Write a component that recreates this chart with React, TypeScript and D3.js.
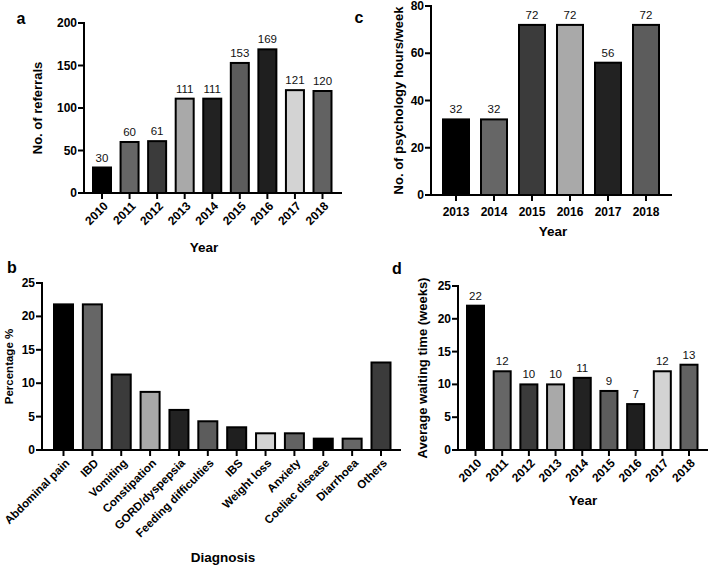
import React from "react";
import * as d3 from "d3";

const palette = ["#000000", "#666666", "#3b3b3b", "#a9a9a9", "#222222", "#5c5c5c", "#1f1f1f", "#d3d3d3", "#626262"];

const yearsA = ["2010", "2011", "2012", "2013", "2014", "2015", "2016", "2017", "2018"];
const referrals = [30, 60, 61, 111, 111, 153, 169, 121, 120];

const diagnoses = ["Abdominal pain", "IBD", "Vomiting", "Constipation", "GORD/dyspepsia", "Feeding difficulties", "IBS", "Weight loss", "Anxiety", "Coeliac disease", "Diarrhoea", "Others"];
const percentages = [21.8, 21.8, 11.3, 8.7, 6.0, 4.3, 3.4, 2.5, 2.5, 1.7, 1.7, 13.1];

const yearsC = ["2013", "2014", "2015", "2016", "2017", "2018"];
const psychHours = [32, 32, 72, 72, 56, 72];

const yearsD = ["2010", "2011", "2012", "2013", "2014", "2015", "2016", "2017", "2018"];
const waiting = [22, 12, 10, 10, 11, 9, 7, 12, 13];

const ticksA = [0, 50, 100, 150, 200];
const ticksB = [0, 5, 10, 15, 20, 25];
const ticksC = [0, 20, 40, 60, 80];
const ticksD = [0, 5, 10, 15, 20, 25];

const FONT = "'Liberation Sans', Arial, Helvetica, sans-serif";

type PanelProps = {
  cats: string[];
  vals: number[];
  ticks: number[];
  yMax: number;
  axisX: number;
  y0: number;
  yTop: number;
  cx0: number;
  cx1: number;
  barW: number;
  xEnd: number;
  rotate: boolean;
  showValues: boolean;
  yTitle: string;
  yTitleX: number;
  yTitleSize: number;
  xTitle: string;
  xTitleX: number;
  xTitleY: number;
  letter: string;
  letterX: number;
  letterY: number;
  catSize: number;
};

function Panel(p: PanelProps) {
  const y = d3.scaleLinear().domain([0, p.yMax]).range([p.y0, p.yTop]);
  const x = d3.scalePoint<string>().domain(p.cats).range([p.cx0, p.cx1]);
  const tickLen = 6;
  return (
    <g fontFamily={FONT}>
      {p.cats.map((c, i) => {
        const cx = x(c) as number;
        const top = y(p.vals[i]);
        return (
          <g key={c}>
            <rect x={cx - p.barW / 2} y={top} width={p.barW} height={p.y0 - top} fill={palette[i % palette.length]} stroke="#000" strokeWidth={2} />
            {p.showValues && (
              <text x={cx} y={top - 6} textAnchor="middle" fontSize={11.5} fill="#111">
                {p.vals[i]}
              </text>
            )}
            <line x1={cx} x2={cx} y1={p.y0} y2={p.y0 + tickLen} stroke="#000" strokeWidth={2} />
            {p.rotate ? (
              <text
                transform={`translate(${cx + 4},${p.y0 + 11}) rotate(-45)`}
                textAnchor="end"
                dominantBaseline="central"
                fontSize={p.catSize}
                fontWeight="bold"
              >
                {c}
              </text>
            ) : (
              <text x={cx} y={p.y0 + 21} textAnchor="middle" fontSize={p.catSize} fontWeight="bold">
                {c}
              </text>
            )}
          </g>
        );
      })}
      <line x1={p.axisX} x2={p.xEnd} y1={p.y0} y2={p.y0} stroke="#000" strokeWidth={2} />
      <line x1={p.axisX} x2={p.axisX} y1={p.y0 + 1} y2={p.yTop - 1} stroke="#000" strokeWidth={2} />
      {p.ticks.map((t) => (
        <g key={t}>
          <line x1={p.axisX - tickLen} x2={p.axisX} y1={y(t)} y2={y(t)} stroke="#000" strokeWidth={2} />
          <text x={p.axisX - tickLen - 1} y={y(t)} textAnchor="end" dominantBaseline="central" fontSize={12} fontWeight="bold">
            {t}
          </text>
        </g>
      ))}
      <text
        transform={`translate(${p.yTitleX},${(p.y0 + p.yTop) / 2}) rotate(-90)`}
        textAnchor="middle"
        dominantBaseline="central"
        fontSize={p.yTitleSize}
        fontWeight="bold"
      >
        {p.yTitle}
      </text>
      <text x={p.xTitleX} y={p.xTitleY} textAnchor="middle" fontSize={13.5} fontWeight="bold">
        {p.xTitle}
      </text>
      <text x={p.letterX} y={p.letterY} textAnchor="middle" fontSize={16} fontWeight="bold">
        {p.letter}
      </text>
    </g>
  );
}

export default function App() {
  return (
    <svg width={708} height={567} style={{ position: "absolute", left: 0, top: 0, background: "#fff" }}>
      <rect width={708} height={567} fill="#fff" />
      <Panel
        cats={yearsA} vals={referrals} ticks={ticksA} yMax={200}
        axisX={84} y0={193} yTop={23} cx0={102} cx1={322.5} barW={18} xEnd={342}
        rotate={true} showValues={true}
        yTitle="No. of referrals" yTitleX={37} yTitleSize={13}
        xTitle="Year" xTitleX={204} xTitleY={252}
        letter="a" letterX={21} letterY={24} catSize={12}
      />
      <Panel
        cats={yearsC} vals={psychHours} ticks={ticksC} yMax={80}
        axisX={431} y0={195} yTop={6} cx0={456} cx1={646} barW={26} xEnd={672}
        rotate={false} showValues={true}
        yTitle="No. of psychology hours/week" yTitleX={398} yTitleSize={13}
        xTitle="Year" xTitleX={553} xTitleY={236}
        letter="c" letterX={359} letterY={23} catSize={12}
      />
      <Panel
        cats={diagnoses} vals={percentages} ticks={ticksB} yMax={25}
        axisX={42} y0={450} yTop={283} cx0={63.5} cx1={381} barW={19} xEnd={401}
        rotate={true} showValues={false}
        yTitle="Percentage %" yTitleX={9} yTitleSize={11.5}
        xTitle="Diagnosis" xTitleX={223} xTitleY={562}
        letter="b" letterX={12} letterY={273} catSize={11.5}
      />
      <Panel
        cats={yearsD} vals={waiting} ticks={ticksD} yMax={25}
        axisX={458} y0={450} yTop={286} cx0={475.5} cx1={689} barW={17} xEnd={708}
        rotate={true} showValues={true}
        yTitle="Average waiting time (weeks)" yTitleX={422} yTitleSize={13}
        xTitle="Year" xTitleX={583} xTitleY={505}
        letter="d" letterX={397} letterY={274} catSize={12}
      />
    </svg>
  );
}
